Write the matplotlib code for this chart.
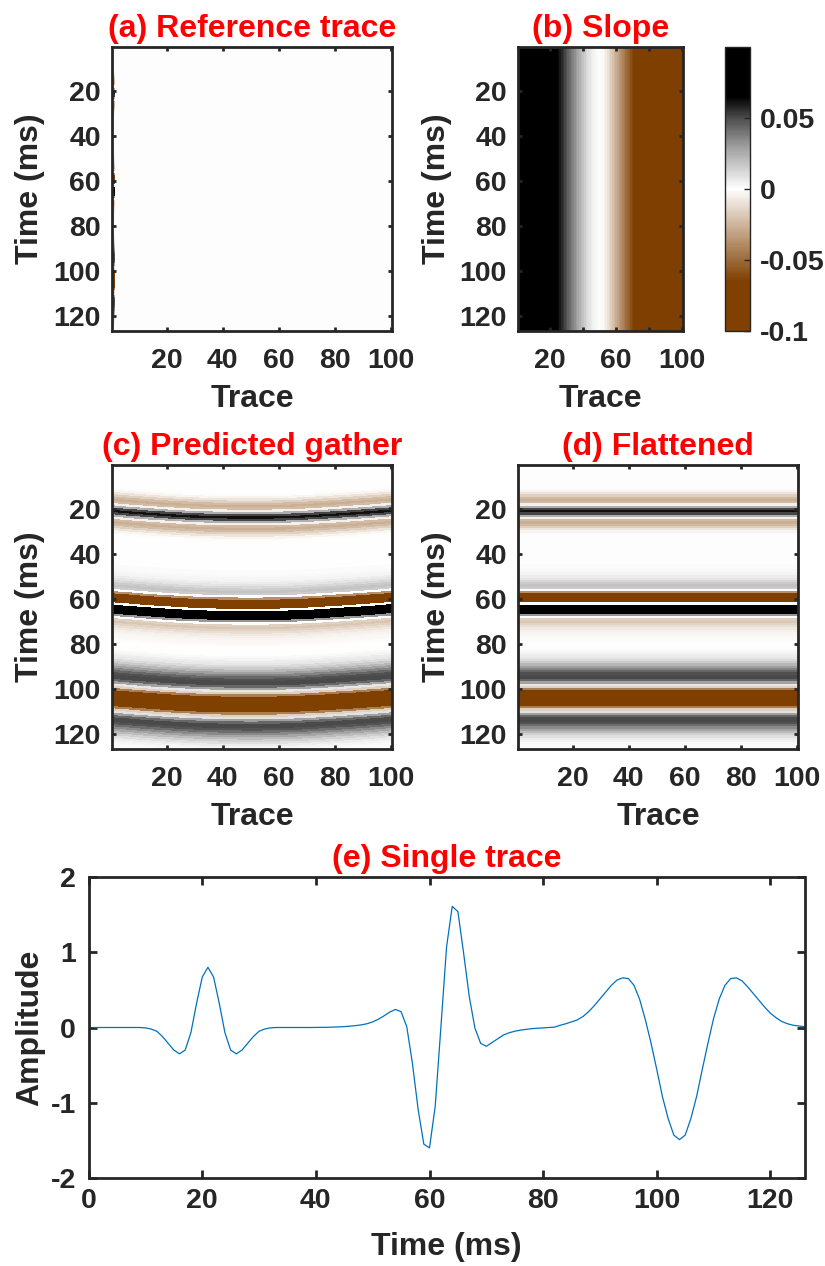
import numpy as np
import matplotlib
matplotlib.use('Agg')
import matplotlib.pyplot as plt
from matplotlib.colors import LinearSegmentedColormap

# ---------------- data ----------------
time_ms = list(range(1, 127))            # samples (ms)
trace_amp = [
    0, 0, 0, 0, 0, 0, 0, 0, 0, -0.005,                       # 1-10
    -0.02, -0.05, -0.12, -0.21, -0.30, -0.35, -0.30, -0.07, 0.32, 0.67,   # 11-20
    0.80, 0.67, 0.32, -0.07, -0.30, -0.35, -0.30, -0.21, -0.12, -0.05,    # 21-30
    -0.02, -0.005, 0, 0, 0, 0, 0, 0, 0, 0.001,               # 31-40
    0.002, 0.003, 0.005, 0.008, 0.012, 0.018, 0.025, 0.035, 0.05, 0.075, # 41-50
    0.11, 0.155, 0.205, 0.24, 0.21, 0.01, -0.48, -1.09, -1.55, -1.60,    # 51-60
    -1.05, 0.00, 1.07, 1.61, 1.54, 0.99, 0.41, -0.01, -0.21, -0.25,      # 61-70
    -0.20, -0.15, -0.10, -0.07, -0.05, -0.035, -0.025, -0.015, -0.01, -0.005,  # 71-80
    0.0, 0.005, 0.03, 0.05, 0.075, 0.10, 0.145, 0.21, 0.29, 0.38,        # 81-90
    0.47, 0.56, 0.63, 0.66, 0.65, 0.56, 0.37, 0.10, -0.21, -0.56,        # 91-100
    -0.92, -1.21, -1.43, -1.49, -1.43, -1.21, -0.92, -0.56, -0.21, 0.12, # 101-110
    0.38, 0.56, 0.65, 0.66, 0.62, 0.54, 0.45, 0.36, 0.27, 0.19,          # 111-120
    0.13, 0.08, 0.05, 0.03, 0.02, 0.01,                                  # 121-126
]

trace_no = list(range(1, 101))
slope = [
    0.100, 0.100, 0.099, 0.099, 0.098, 0.097, 0.096, 0.095, 0.094, 0.093,   # 1-10
    0.092, 0.090, 0.089, 0.087, 0.086, 0.084, 0.082, 0.080, 0.078, 0.076,   # 11-20
    0.074, 0.071, 0.069, 0.066, 0.063, 0.060, 0.057, 0.054, 0.051, 0.048,   # 21-30
    0.045, 0.042, 0.039, 0.036, 0.033, 0.030, 0.027, 0.024, 0.021, 0.018,   # 31-40
    0.015, 0.012, 0.010, 0.008, 0.006, 0.004, 0.003, 0.002, 0.001, 0.000,   # 41-50
    -0.001, -0.002, -0.004, -0.007, -0.010, -0.014, -0.017, -0.021, -0.024, -0.028,  # 51-60
    -0.031, -0.035, -0.038, -0.042, -0.045, -0.049, -0.052, -0.055, -0.059, -0.062,  # 61-70
    -0.065, -0.067, -0.069, -0.071, -0.072, -0.073, -0.074, -0.075, -0.076, -0.077,  # 71-80
    -0.078, -0.079, -0.080, -0.081, -0.082, -0.083, -0.084, -0.085, -0.086, -0.087,  # 81-90
    -0.088, -0.089, -0.090, -0.091, -0.092, -0.093, -0.094, -0.095, -0.097, -0.100,  # 91-100
]

gather_clim = [-1.3, 1.3]
img_xticks = [20, 40, 60, 80, 100]
img_yticks = [20, 40, 60, 80, 100, 120]
slope_xticklabels = ['20', '', '60', '', '100']
cbar_ticks = [-0.1, -0.05, 0, 0.05]
cbar_ticklabels = ['-0.1', '-0.05', '0', '0.05']
line_xticks = [0, 20, 40, 60, 80, 100, 120]
line_yticks = [-2, -1, 0, 1, 2]

titles = ['(a) Reference trace', '(b) Slope', '(c) Predicted gather',
          '(d) Flattened', '(e) Single trace']

# ---------------- derived arrays ----------------
t = np.array(time_ms, dtype=float)
tr = np.array(trace_amp, dtype=float)
xs = np.array(trace_no, dtype=float)
p = np.array(slope, dtype=float)
nt, nx = len(t), len(xs)

ref_img = np.zeros((nt, nx))
ref_img[:, 0] = tr
slope_img = np.tile(p, (nt, 1))
flat_img = np.tile(tr[:, None], (1, nx))
shift = np.concatenate([[0.0], np.cumsum(p[:-1])])   # predicted time shift per trace
Xg = np.tile(xs, (nt, 1))
Yg = t[:, None] + shift[None, :]

vmin, vmax = gather_clim

# ---------------- style ----------------
plt.rcParams['font.family'] = ['Liberation Sans', 'DejaVu Sans']
plt.rcParams['font.weight'] = 'bold'
plt.rcParams['axes.unicode_minus'] = False
ink = '#262626'
brown = (0.50, 0.25, 0.0)
cmap = LinearSegmentedColormap.from_list(
    'seis', [(0.0, brown), (0.175, brown), (0.5, (1, 1, 1)),
             (0.65, (0.62, 0.62, 0.62)), (0.75, (0.30, 0.30, 0.30)),
             (0.825, (0, 0, 0)), (1.0, (0, 0, 0))])

TICK = 20.5
LAB = 23
TIT = 23

W, H = 825, 1266
fig = plt.figure(figsize=(W / 100, H / 100), dpi=100)


def add_axes(l, r, top, bot):
    return fig.add_axes([l / W, 1 - bot / H, (r - l) / W, (bot - top) / H])


def style(ax, tick_len, xpad=12, ypad=8):
    for s in ax.spines.values():
        s.set_color(ink)
        s.set_linewidth(2.0)
    ax.tick_params(direction='in', length=tick_len, width=2.0, colors=ink,
                   labelsize=TICK, top=True, right=True)
    ax.tick_params(axis='x', pad=xpad)
    ax.tick_params(axis='y', pad=ypad)
    for lab in ax.get_xticklabels() + ax.get_yticklabels():
        lab.set_fontweight('bold')


def img_axes(ax, title, xlab_off, ylab_off):
    ax.set_xlim(0.5, 100.5)
    ax.set_ylim(126.5, 0.5)
    ax.set_xticks(img_xticks)
    ax.set_yticks(img_yticks)
    style(ax, 3.0)
    ax.set_xlabel('Trace', fontsize=LAB, fontweight='bold', color=ink)
    ax.set_ylabel('Time (ms)', fontsize=LAB, fontweight='bold', color=ink)
    ax.xaxis.label.set_va('center')
    ax.yaxis.label.set_va('center')
    ax.xaxis.set_label_coords(0.5, xlab_off)
    ax.yaxis.set_label_coords(ylab_off, 0.5)
    ax.set_title(title, color='red', fontsize=TIT, fontweight='bold', pad=7)


ext = (0.5, 100.5, 126.5, 0.5)

# (a)
axa = add_axes(112, 392, 47, 331)
axa.imshow(ref_img, cmap=cmap, vmin=vmin, vmax=vmax, aspect='auto',
           extent=ext, interpolation='nearest')
img_axes(axa, titles[0], -0.24, -0.293)

# (b)
axb = add_axes(518, 683, 47, 331)
im_b = axb.imshow(slope_img, cmap=cmap, vmin=p.min(), vmax=p.max(), aspect='auto',
                  extent=ext, interpolation='nearest')
img_axes(axb, titles[1], -0.24, -0.49)
axb.set_xticklabels(slope_xticklabels)
cax = add_axes(725, 750, 47, 331)
cb = fig.colorbar(im_b, cax=cax)
cb.set_ticks(cbar_ticks)
cb.set_ticklabels(cbar_ticklabels)
cb.outline.set_edgecolor(ink)
cb.outline.set_linewidth(1.0)
cax.tick_params(direction='in', length=4, width=1.0, colors=ink, labelsize=TICK, pad=7)
for lab in cax.get_yticklabels():
    lab.set_fontweight('bold')

# (c)
axc = add_axes(112, 392, 465, 749)
axc.pcolormesh(Xg, Yg, flat_img, cmap=cmap, vmin=vmin, vmax=vmax,
               shading='nearest', edgecolors='none')
img_axes(axc, titles[2], -0.24, -0.293)

# (d)
axd = add_axes(518, 798, 465, 749)
axd.imshow(flat_img, cmap=cmap, vmin=vmin, vmax=vmax, aspect='auto',
           extent=ext, interpolation='nearest')
img_axes(axd, titles[3], -0.24, -0.29)

# (e)
axe = add_axes(88.6, 804.5, 877, 1178)
axe.plot(t, tr, color=(0, 0.447, 0.741), lw=0.9)
axe.set_xlim(0, 126)
axe.set_ylim(-2, 2)
axe.set_xticks(line_xticks)
axe.set_yticks(line_yticks)
style(axe, 5.5, xpad=7, ypad=9)
axe.set_xlabel('Time (ms)', fontsize=LAB, fontweight='bold', color=ink)
axe.set_ylabel('Amplitude', fontsize=LAB, fontweight='bold', color=ink)
axe.xaxis.label.set_va('center')
axe.yaxis.label.set_va('center')
axe.xaxis.set_label_coords(0.5, (1178 - 1247) / 301)
axe.yaxis.set_label_coords((30 - 88.6) / 716, 0.5)
axe.set_title(titles[4], color='red', fontsize=TIT, fontweight='bold', pad=7)

fig.savefig('out.png', dpi=100)
